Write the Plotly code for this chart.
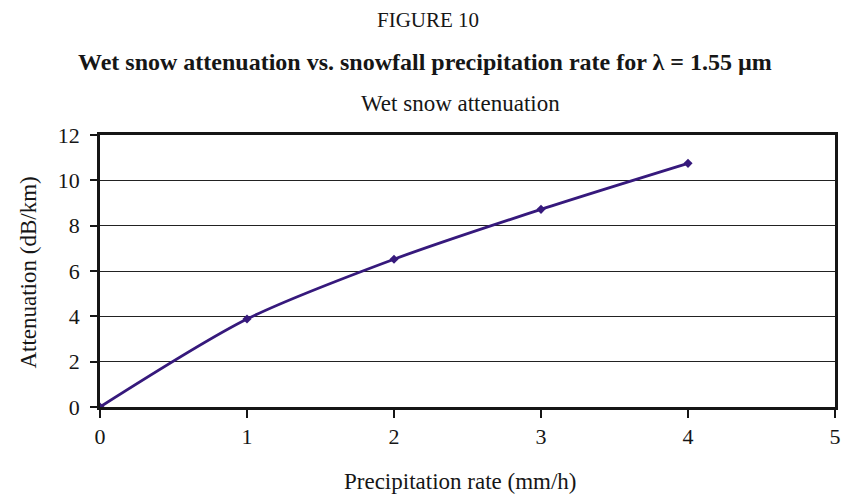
import plotly.graph_objects as go

rate = [0, 1, 2, 3, 4]
attenuation = [0, 3.88, 6.52, 8.72, 10.75]
x_ticks = [0, 1, 2, 3, 4, 5]
y_ticks = [0, 2, 4, 6, 8, 10, 12]

serif = "Liberation Serif, Times New Roman, serif"
line_color = "#36197C"
ink = "#161616"

W, H = 842, 496
L, R, T, B = 100, 1, 135, 89
pw, ph = W - L - R, H - T - B


def px_x(x):
    return (x - L) / pw


def px_y(y):
    return (H - B - y) / ph


fig = go.Figure()
fig.add_trace(go.Scatter(
    x=rate, y=attenuation, mode="lines+markers",
    line=dict(color=line_color, width=2.8, shape="spline", smoothing=0.8),
    marker=dict(symbol="diamond", size=7, color=line_color),
    showlegend=False,
))

fig.update_layout(
    width=W, height=H,
    margin=dict(l=L, r=R, t=T, b=B),
    paper_bgcolor="white", plot_bgcolor="white",
    font=dict(family=serif, size=22, color=ink),
    xaxis=dict(range=[0, 5], tickvals=x_ticks, showgrid=False, zeroline=False,
               showline=True, linecolor=ink, linewidth=2.5, mirror=True,
               ticks="outside", ticklen=8, tickwidth=1.5, tickcolor=ink,
               tickfont=dict(family=serif, size=22, color=ink),
               ticklabelstandoff=0, ticklabeloverflow="allow"),
    yaxis=dict(range=[0, 12], tickvals=y_ticks, showgrid=True, gridcolor="#222222",
               gridwidth=1.2, zeroline=False,
               showline=True, linecolor=ink, linewidth=2.5, mirror=True,
               ticks="outside", ticklen=7, tickwidth=1.5, tickcolor=ink,
               tickfont=dict(family=serif, size=22, color=ink),
               ticklabelstandoff=6),
    annotations=[
        dict(text="FIGURE 10", x=px_x(431), y=px_y(20), xref="paper", yref="paper",
             xanchor="center", yanchor="middle", showarrow=False,
             font=dict(family=serif, size=21, color=ink)),
        dict(text="<b>Wet snow attenuation vs. snowfall precipitation rate for λ = 1.55 µm</b>",
             x=px_x(428), y=px_y(62), xref="paper", yref="paper",
             xanchor="center", yanchor="middle", showarrow=False,
             font=dict(family=serif, size=24, color=ink)),
        dict(text="Wet snow attenuation", x=px_x(463), y=px_y(103), xref="paper", yref="paper",
             xanchor="center", yanchor="middle", showarrow=False,
             font=dict(family=serif, size=23, color=ink)),
        dict(text="Precipitation rate (mm/h)", x=px_x(463), y=px_y(481), xref="paper", yref="paper",
             xanchor="center", yanchor="middle", showarrow=False,
             font=dict(family=serif, size=23, color=ink)),
        dict(text="Attenuation (dB/km)", x=px_x(27), y=px_y(273), xref="paper", yref="paper",
             xanchor="center", yanchor="middle", showarrow=False, textangle=-90,
             font=dict(family=serif, size=23, color=ink)),
    ],
)

fig.write_html("out.html", config={"displayModeBar": False},
               post_script="document.body.style.margin='0';document.body.style.overflow='hidden';")
